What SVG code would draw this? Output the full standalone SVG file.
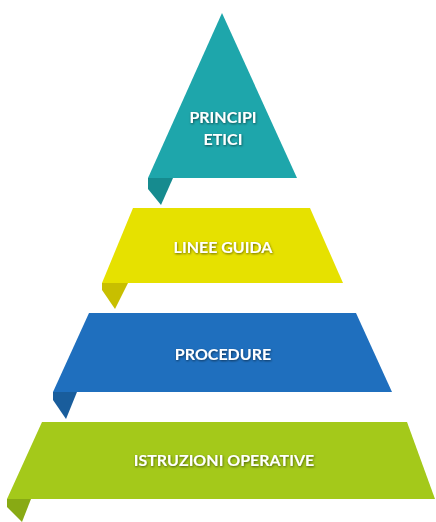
<svg xmlns="http://www.w3.org/2000/svg" width="436" height="522" viewBox="0 0 436 522">
<defs>
<filter id="ts" x="-20%" y="-40%" width="140%" height="180%">
<feDropShadow dx="0.6" dy="1" stdDeviation="0.9" flood-color="#000" flood-opacity="0.55"/>
</filter>
</defs>
<style>
.lbl{font-family:Lato,"Open Sans","Liberation Sans",sans-serif;font-weight:bold;font-size:16px;fill:#fff;text-anchor:middle;filter:url(#ts)}
</style>
<rect width="436" height="522" fill="#fff"/>
<g id="connectors"></g>
<g id="principi-etici">
<polygon points="148,178 173,178 161,205 148,189" fill="#168b8f"/>
<polygon points="222,13 297,178 148,178" fill="#1ea6ab"/>
<text class="lbl" x="223" y="123">PRINCIPI</text>
<text class="lbl" x="223" y="145">ETICI</text>
</g>
<g id="linee-guida">
<polygon points="102,283 128,283 115,309 102,290" fill="#c8bf00"/>
<polygon points="133,208 310,208 343,283 102,283" fill="#e6e100"/>
<text class="lbl" x="223" y="253">LINEE GUIDA</text>
</g>
<g id="procedure">
<polygon points="53,392 77,392 66,419 53,400" fill="#195d9c"/>
<polygon points="89,313 356,313 392,392 53,392" fill="#1f6fbe"/>
<text class="lbl" x="223" y="360">PROCEDURE</text>
</g>
<g id="istruzioni-operative">
<polygon points="7,499 31,499 22,522 7,507" fill="#88aa14"/>
<polygon points="42,422 407,422 435,499 7,499" fill="#a4c91a"/>
<text class="lbl" x="224" y="466">ISTRUZIONI OPERATIVE</text>
</g>
</svg>
